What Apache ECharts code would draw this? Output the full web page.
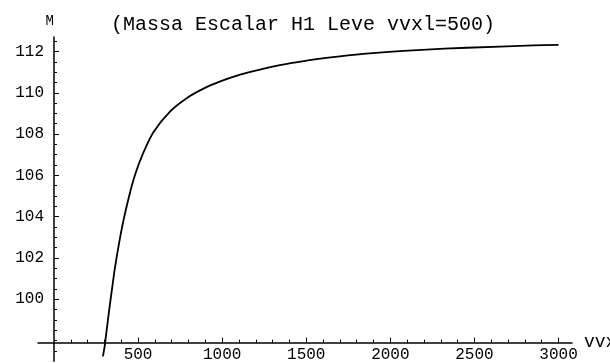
<!DOCTYPE html>
<html>
<head>
<meta charset="utf-8">
<script src="https://cdn.jsdelivr.net/npm/echarts@6/dist/echarts.min.js"></script>
<style>
  html, body { margin: 0; padding: 0; background: #fff; }
  #chart { width: 610px; height: 363px; }
</style>
</head>
<body>
<div id="chart"></div>
<script>
// curve (vvx, M)
var vvx = [291, 302, 305, 331, 351, 364, 390, 414, 450, 483, 529, 592, 691, 791, 889, 989, 1088, 1187, 1286, 1385, 1484, 1573, 1672, 1811, 1970, 2188, 2455, 2851, 3000]
var massa = [97.23, 97.75, 97.96, 99.65, 100.85, 101.6, 102.85, 103.85, 105.1, 106.05, 107.05, 108.1, 109.1, 109.75, 110.2, 110.55, 110.83, 111.05, 111.24, 111.4, 111.53, 111.64, 111.74, 111.86, 111.97, 112.08, 112.18, 112.29, 112.32]

var xMajorTicks = [500, 1000, 1500, 2000, 2500, 3000]
var xMinorTicks = [100, 200, 300, 400, 600, 700, 800, 900, 1100, 1200, 1300, 1400, 1600, 1700, 1800, 1900, 2100, 2200, 2300, 2400, 2600, 2700, 2800, 2900]
var yMajorTicks = [100, 102, 104, 106, 108, 110, 112]
var yMinorTicks = [97.5, 98, 98.5, 99, 99.5, 100.5, 101, 101.5, 102.5, 103, 103.5, 104.5, 105, 105.5, 106.5, 107, 107.5, 108.5, 109, 109.5, 110.5, 111, 111.5, 112.5]

var chart = echarts.init(document.getElementById('chart'))

var mono = 'Liberation Mono'
var axisColor = '#000'

var points = []
for (var i = 0; i < vvx.length; i++) {
  points.push([vvx[i], massa[i]])
}

// plain numbers, no thousands separator
var plain = function(v) { return String(v) }

function baseX() {
  return {
    type: 'value',
    min: -95,
    max: 3080,
    position: 'bottom',
    offset: -18.6,
    splitLine: { show: false }
  }
}
function baseY() {
  return {
    type: 'value',
    min: 97.0,
    max: 112.7,
    position: 'left',
    offset: -16,
    splitLine: { show: false }
  }
}

var x0 = baseX()
x0.axisLine = { show: true, onZero: false, lineStyle: { color: axisColor, width: 1.5 } }
x0.axisTick = { show: true, inside: true, length: 5, customValues: xMajorTicks, lineStyle: { color: axisColor, width: 1 } }
x0.axisLabel = { show: true, customValues: xMajorTicks, formatter: plain, margin: 4, color: '#000', fontFamily: mono, fontSize: 16 }
x0.name = 'vvxl'
x0.nameLocation = 'end'
x0.nameGap = 12
x0.nameTextStyle = { color: '#000', fontFamily: mono, fontSize: 18 }

var x1 = baseX()
x1.axisLine = { show: false, onZero: false }
x1.axisTick = { show: true, inside: true, length: 3, customValues: xMinorTicks, lineStyle: { color: axisColor, width: 1 } }
x1.axisLabel = { show: false }

var y0 = baseY()
y0.axisLine = { show: true, onZero: false, lineStyle: { color: axisColor, width: 1.5 } }
y0.axisTick = { show: true, inside: true, length: 5, customValues: yMajorTicks, lineStyle: { color: axisColor, width: 1 } }
y0.axisLabel = { show: true, customValues: yMajorTicks, formatter: plain, margin: 10, color: '#000', fontFamily: mono, fontSize: 16 }
y0.name = 'M'
y0.nameLocation = 'end'
y0.nameGap = 9
y0.nameTextStyle = { color: '#000', fontFamily: mono, fontSize: 14, align: 'right' }

var y1 = baseY()
y1.axisLine = { show: false, onZero: false }
y1.axisTick = { show: true, inside: true, length: 3, customValues: yMinorTicks, lineStyle: { color: axisColor, width: 1 } }
y1.axisLabel = { show: false }

chart.setOption({
  animation: false,
  backgroundColor: '#fff',
  title: {
    text: '(Massa Escalar H1 Leve vvxl=500)',
    left: 106,
    top: 10,
    textStyle: { color: '#000', fontFamily: mono, fontSize: 20, fontWeight: 'normal' }
  },
  grid: {
    left: 38,
    right: 38,
    top: 37,
    bottom: 1.8,
    containLabel: false,
    outerBoundsMode: 'none'
  },
  xAxis: [x0, x1],
  yAxis: [y0, y1],
  series: [{
    type: 'line',
    xAxisIndex: 0,
    yAxisIndex: 0,
    data: points,
    smooth: 0.3,
    showSymbol: false,
    clip: false,
    lineStyle: { color: '#000', width: 1.8 }
  }]
})
</script>
</body>
</html>
